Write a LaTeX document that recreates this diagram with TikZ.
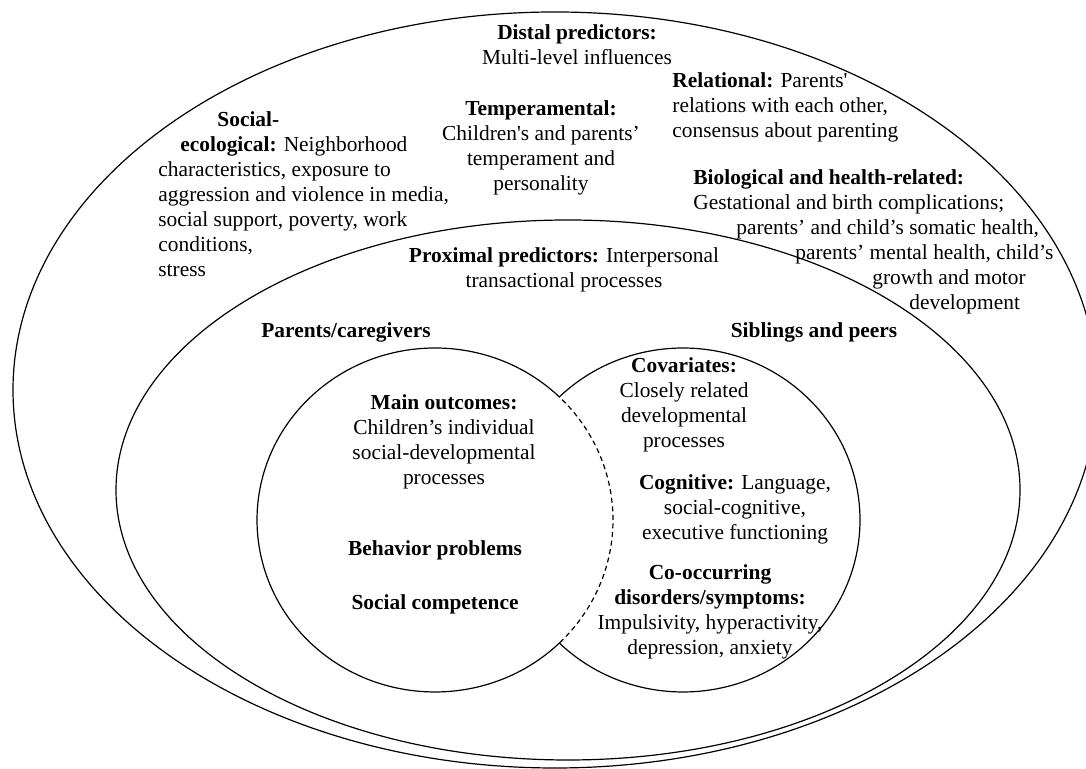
\documentclass[tikz,border=0pt]{standalone}
\usepackage{fontspec}
\setmainfont{Liberation Serif}
\usepackage{tikz}

\begin{document}
\begin{tikzpicture}[
		x=0.5pt, y=0.5pt,
		every node/.style={font=\fontsize{10.7}{12.5}\selectfont, inner sep=0pt},
		ring/.style={line width=0.6pt},
		txt_l/.style={align=left, anchor=west},
		txt_c/.style={align=center}
	]
  \useasboundingbox (0,0) rectangle (1086,769);
  \coordinate (c_d) at (555,379);
  \coordinate (c_p) at (568,279);
  \coordinate (c_l) at (435,249);
  \coordinate (c_r) at (683,249);
  \draw[ring] (c_d) ellipse [x radius=542, y radius=378];
  \draw[ring] (c_p) ellipse [x radius=452, y radius=270];
  \draw[ring] ([shift={(45.5:178 and 172)}]c_l) arc[start angle=45.5, end angle=314.5, x radius=178, y radius=172];
  \draw[ring, dash pattern=on 2.5pt off 1.8pt] ([shift={(-45.5:178 and 172)}]c_l) arc[start angle=-45.5, end angle=45.5, x radius=178, y radius=172];
  \draw[ring] ([shift={(-134.3:177 and 172)}]c_r) arc[start angle=-134.3, end angle=134.3, x radius=177, y radius=172];
  \node (distal) [txt_c] at (577,724) {\textbf{Distal predictors:}\\Multi-level influences};
  \node (temper) [txt_c] at (541,621.5) {\textbf{Temperamental:}\\Children\textquotesingle s and parents’\\temperament and\\personality};
  \node (soc_eco) [txt_l] at (158,575) {\hspace*{29.5pt}\textbf{Social-}\\\hspace*{11pt}\textbf{ecological:} Neighborhood\\characteristics, exposure to\\aggression and violence in media,\\social support, poverty, work\\conditions,\\stress};
  \node (relat) [txt_l] at (672,661.5) {\textbf{Relational:} Parents\textquotesingle\\relations with each other,\\consensus about parenting};
  \node (bio) [txt_l] at (693,527.5) {\textbf{Biological and health-related:}\\Gestational and birth complications;\\\hspace*{21.5pt}parents’ and child’s somatic health,\\\hspace*{51pt}parents’ mental health, child’s\\\hspace*{89.5pt}growth and motor\\\hspace*{108pt}development};
  \node (proximal) [txt_c] at (564,499.5) {\textbf{Proximal predictors:} Interpersonal\\transactional processes};
  \node (parents) at (346,437) {\textbf{Parents/caregivers}};
  \node (siblings) at (814,437) {\textbf{Siblings and peers}};
  \node (main) [txt_c] at (444,327.5) {\textbf{Main outcomes:}\\Children’s individual\\social-developmental\\processes};
  \node (behav) at (435,219) {\textbf{Behavior problems}};
  \node (soc_comp) at (435,165) {\textbf{Social competence}};
  \node (covar) [txt_c] at (684,364) {\textbf{Covariates:}\\Closely related\\developmental\\processes};
  \node (cogn) [txt_c] at (735,260) {\textbf{Cognitive:} Language,\\social-cognitive,\\executive functioning};
  \node (co_occ) [txt_c] at (710,157.5) {\textbf{Co-occurring}\\\textbf{disorders/symptoms:}\\Impulsivity, hyperactivity,\\depression, anxiety};
\end{tikzpicture}
\end{document}
